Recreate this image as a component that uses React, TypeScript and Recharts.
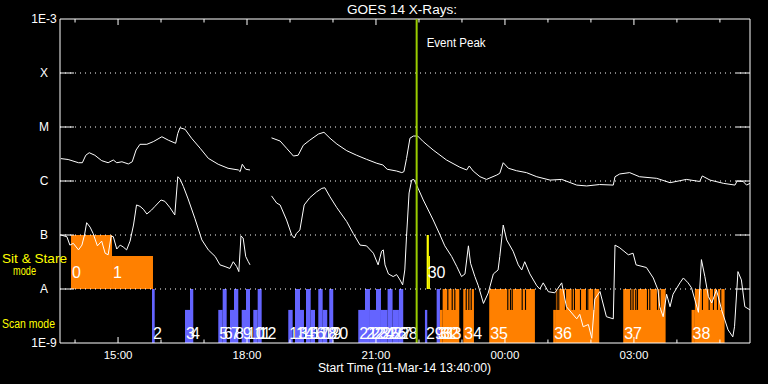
import React from 'react';
import { ComposedChart, Line, XAxis, YAxis, ReferenceArea, ReferenceLine } from 'recharts';

const FONT = '"Liberation Sans", Arial, sans-serif';

// Time axis in decimal clock hours of 11-Mar-14 (values above 24 are 12-Mar)
const T_START = 13.65;
const T_END = 29.7;
const EVENT_PEAK = 21.946;
const HOUR_TICKS = [14, 15, 16, 17, 18, 19, 20, 21, 22, 23, 24, 25, 26, 27, 28, 29];
const LABEL_TICKS = [15, 18, 21, 24, 27];

const Y_TICKS = [1e-9, 1e-8, 1e-7, 1e-6, 1e-5, 1e-4, 1e-3];
const Y_TICK_LABELS = ['1E-9', 'A', 'B', 'C', 'M', 'X', '1E-3'];
const GRID_LEVELS = [1e-8, 1e-7, 1e-6, 1e-5, 1e-4];

// GOES 14 long channel (1-8 A), two segments separated by a data gap
const longA = [
  [13.67, 2.6e-6], [13.84, 2.5e-6], [14.08, 2.18e-6], [14.17, 2.18e-6], [14.25, 3.0e-6],
  [14.33, 3.34e-6], [14.46, 3.0e-6], [14.62, 2.38e-6], [14.77, 2.18e-6], [14.89, 2.45e-6],
  [14.97, 2.18e-6], [15.09, 2.27e-6], [15.24, 2.07e-6], [15.33, 2.27e-6], [15.42, 3.75e-6],
  [15.51, 4.78e-6], [15.67, 4.78e-6], [15.82, 5.35e-6], [16.02, 6.6e-6], [16.17, 5.7e-6],
  [16.34, 4.99e-6], [16.39, 7.6e-6], [16.44, 9.7e-6], [16.56, 9.05e-6], [16.71, 6.2e-6],
  [16.91, 4.04e-6], [17.10, 2.63e-6], [17.33, 2.04e-6], [17.56, 1.72e-6], [17.80, 1.6e-6],
  [17.84, 1.49e-6], [17.89, 2.04e-6], [17.97, 1.65e-6], [18.07, 1.6e-6],
];
const longB = [
  [18.57, 6.3e-6], [18.77, 5.5e-6], [18.92, 4.04e-6], [19.08, 2.9e-6], [19.19, 3.0e-6],
  [19.31, 4.6e-6], [19.46, 5.7e-6], [19.66, 7.4e-6], [19.79, 7.98e-6], [19.93, 6.2e-6],
  [20.09, 4.84e-6], [20.32, 3.64e-6], [20.55, 3.0e-6], [20.78, 2.52e-6], [21.02, 2.13e-6],
  [21.16, 1.98e-6], [21.26, 1.65e-6], [21.48, 1.53e-6], [21.60, 1.43e-6], [21.65, 1.49e-6],
  [21.71, 2.6e-6], [21.79, 6.2e-6], [21.87, 6.8e-6], [21.97, 6.8e-6], [22.10, 5.35e-6],
  [22.33, 3.75e-6], [22.64, 2.45e-6], [22.95, 1.8e-6], [23.11, 1.6e-6], [23.17, 1.9e-6],
  [23.26, 1.53e-6], [23.42, 1.2e-6], [23.57, 1.07e-6], [23.81, 1.29e-6], [23.88, 1.39e-6],
  [23.96, 2.18e-6], [24.08, 1.72e-6], [24.27, 1.55e-6], [24.50, 1.43e-6], [24.74, 1.2e-6],
  [25.05, 1.04e-6], [25.32, 1.07e-6], [25.67, 8.4e-7], [25.90, 8.1e-7], [26.20, 8.6e-7],
  [26.52, 8.4e-7], [26.56, 1.2e-6], [26.67, 1.35e-6], [26.90, 1.43e-6], [27.13, 1.2e-6],
  [27.53, 1.12e-6], [27.84, 9.3e-7], [28.22, 1.07e-6], [28.53, 9.8e-7], [28.59, 1.24e-6],
  [28.77, 1.04e-6], [29.08, 9.05e-7], [29.35, 8.4e-7], [29.40, 1.0e-6], [29.54, 9.8e-7],
  [29.62, 8.4e-7], [29.70, 9.05e-7],
];

// GOES 14 short channel (0.5-4 A)
const shortA = [
  [13.67, 1.0e-7], [13.81, 9.3e-8], [13.88, 6.5e-8], [13.96, 7.0e-8], [14.08, 5.3e-8],
  [14.16, 6.5e-8], [14.22, 1.0e-7], [14.27, 1.69e-7], [14.35, 1.4e-7], [14.42, 1.07e-7],
  [14.52, 6.3e-8], [14.62, 7.7e-8], [14.70, 4.6e-8], [14.77, 4.3e-8], [14.84, 9.6e-8],
  [14.89, 9.3e-8], [14.97, 5.5e-8], [15.05, 6.5e-8], [15.12, 6.0e-8], [15.20, 5.3e-8],
  [15.28, 7.7e-8], [15.36, 1.53e-7], [15.43, 3.6e-7], [15.51, 3.4e-7], [15.59, 3.0e-7],
  [15.67, 2.45e-7], [15.78, 2.9e-7], [15.86, 3.4e-7], [16.00, 4.45e-7], [16.09, 4.2e-7],
  [16.21, 3.2e-7], [16.32, 2.35e-7], [16.39, 1.2e-6], [16.44, 1.1e-6], [16.52, 7.9e-7],
  [16.63, 4.65e-7], [16.79, 2.0e-7], [16.95, 8.1e-8], [17.10, 5.3e-8], [17.26, 4.0e-8],
  [17.37, 2.8e-8], [17.49, 2.6e-8], [17.60, 2.4e-8], [17.68, 3.2e-8], [17.76, 2.6e-8],
  [17.81, 2.1e-8], [17.86, 9.6e-8], [17.91, 8.8e-8], [17.97, 4.0e-8], [18.03, 3.2e-8],
  [18.07, 2.8e-8],
];
const shortB = [
  [18.57, 5.3e-7], [18.69, 3.9e-7], [18.77, 3.6e-7], [18.92, 1.9e-7], [19.04, 1.0e-7],
  [19.10, 8.8e-8], [19.15, 1.07e-7], [19.23, 1.24e-7], [19.33, 3.6e-7], [19.46, 4.9e-7],
  [19.62, 6.3e-7], [19.74, 7.3e-7], [19.81, 7.5e-7], [19.93, 5.1e-7], [20.09, 3.2e-7],
  [20.32, 1.77e-7], [20.47, 1.07e-7], [20.63, 6.5e-8], [20.78, 6.3e-8], [20.94, 4.6e-8],
  [21.05, 2.8e-8], [21.13, 5.0e-8], [21.17, 5.3e-8], [21.21, 2.8e-8], [21.29, 1.9e-8],
  [21.40, 1.7e-8], [21.48, 1.85e-8], [21.56, 1.47e-8], [21.62, 1.19e-8], [21.67, 2.25e-8],
  [21.71, 9.3e-8], [21.77, 6.0e-7], [21.83, 1.04e-6], [21.88, 1.07e-6], [21.98, 7.3e-7],
  [22.10, 4.45e-7], [22.33, 1.9e-7], [22.49, 1.0e-7], [22.60, 6.3e-8], [22.76, 4.0e-8],
  [22.88, 2.6e-8], [22.99, 1.7e-8], [23.07, 1.9e-8], [23.15, 6.3e-8], [23.20, 3.0e-8],
  [23.30, 1.7e-8], [23.38, 1.15e-8], [23.50, 5.4e-9], [23.61, 8.4e-9], [23.73, 1.9e-8],
  [23.84, 2.25e-8], [23.88, 4.0e-8], [23.96, 1.53e-7], [24.04, 8.1e-8], [24.19, 5.0e-8],
  [24.31, 2.8e-8], [24.39, 2.25e-8], [24.46, 3.2e-8], [24.58, 1.9e-8], [24.74, 1.15e-8],
  [24.81, 1.0e-8], [24.89, 1.3e-8], [25.01, 8.9e-9], [25.16, 8.5e-9], [25.32, 1.3e-8],
  [25.43, 4.7e-9], [25.67, 2.8e-9], [25.74, 3.4e-9], [25.82, 2.0e-9], [25.94, 2.2e-9],
  [26.02, 1.22e-9], [26.09, 6.5e-9], [26.21, 9.0e-9], [26.36, 3.07e-9], [26.52, 2.8e-9],
  [26.56, 6.5e-8], [26.67, 5.8e-8], [26.87, 4.3e-8], [26.98, 4.6e-8], [27.05, 2.8e-8],
  [27.29, 2.5e-8], [27.45, 1.6e-8], [27.56, 9.6e-9], [27.60, 4.7e-9], [27.68, 3.07e-9],
  [27.76, 8.0e-9], [27.84, 4.7e-9], [27.91, 8.0e-9], [28.07, 1.3e-8], [28.15, 1.6e-8],
  [28.26, 1.3e-8], [28.34, 1.05e-8], [28.50, 3.7e-9], [28.57, 3.5e-8], [28.65, 1.7e-8],
  [28.73, 7.3e-9], [28.81, 5.5e-9], [28.92, 9.6e-9], [29.04, 4.1e-9], [29.19, 1.75e-9],
  [29.30, 1.3e-9], [29.34, 2.0e-9], [29.42, 2.1e-8], [29.50, 1.47e-8], [29.58, 4.7e-9],
  [29.70, 4.1e-9],
];

// Observation blocks. group: O = orange, B = blue, Y = yellow
const STARE_BASE = 1e-8;
const SCAN_BASE = 1e-9;
const FULL = 1e-8;
const HALF = 4.1e-9;

const stareObs = [
  { label: '0', start: 13.906, end: 14.86, top: 1.0e-7, group: 'O' },
  { label: '1', start: 14.86, end: 15.813, top: 4.1e-8, group: 'O' },
  { label: '30', start: 22.179, end: 22.23, top: 1.0e-7, group: 'Y' },
  { label: '', start: 22.23, end: 22.255, top: 4.1e-8, group: 'Y' },
];

const scanObs = [
  { label: '2', start: 15.79, end: 15.853, top: FULL, group: 'B' },
  { label: '3', start: 16.557, end: 16.674, top: HALF, group: 'B' },
  { label: '4', start: 16.674, end: 16.75, top: FULL, group: 'B' },
  { label: '5', start: 17.332, end: 17.434, top: HALF, group: 'B' },
  { label: '6', start: 17.434, end: 17.527, top: FULL, group: 'B' },
  { label: '7', start: 17.604, end: 17.697, top: HALF, group: 'B' },
  { label: '8', start: 17.697, end: 17.797, top: FULL, group: 'B' },
  { label: '9', start: 17.876, end: 17.976, top: HALF, group: 'B' },
  { label: '10', start: 17.976, end: 18.069, top: FULL, group: 'B' },
  { label: '11', start: 18.146, end: 18.248, top: HALF, group: 'B' },
  { label: '12', start: 18.248, end: 18.341, top: FULL, group: 'B' },
  { label: '13', start: 18.96, end: 19.062, top: HALF, group: 'B' },
  { label: '14', start: 19.116, end: 19.232, top: FULL, group: 'B' },
  { label: '15', start: 19.232, end: 19.325, top: HALF, group: 'B' },
  { label: '16', start: 19.372, end: 19.481, top: FULL, group: 'B' },
  { label: '17', start: 19.481, end: 19.581, top: HALF, group: 'B' },
  { label: '18', start: 19.658, end: 19.76, top: FULL, group: 'B' },
  { label: '19', start: 19.76, end: 19.867, top: HALF, group: 'B' },
  { label: '20', start: 19.913, end: 20.006, top: FULL, group: 'B' },
  { label: '21', start: 20.588, end: 20.744, top: HALF, group: 'B' },
  { label: '22', start: 20.744, end: 20.86, top: FULL, group: 'B' },
  { label: '23', start: 20.86, end: 21.0, top: HALF, group: 'B' },
  { label: '24', start: 21.0, end: 21.116, top: FULL, group: 'B' },
  { label: '25', start: 21.116, end: 21.27, top: HALF, group: 'B' },
  { label: '26', start: 21.27, end: 21.386, top: FULL, group: 'B' },
  { label: '27', start: 21.386, end: 21.534, top: HALF, group: 'B' },
  { label: '28', start: 21.534, end: 21.634, top: FULL, group: 'B' },
  { label: '29', start: 22.139, end: 22.193, top: HALF, group: 'B' },
  { label: '31', start: 22.411, end: 22.488, top: FULL, group: 'B' },
  { label: '32', start: 22.488, end: 22.551, top: HALF, group: 'O' },
  { label: '33', start: 22.551, end: 22.937, top: FULL, group: 'O' },
  { label: '34', start: 23.03, end: 23.279, top: FULL, group: 'O' },
  { label: '35', start: 23.634, end: 24.697, top: FULL, group: 'O' },
  { label: '36', start: 25.123, end: 25.186, top: HALF, group: 'O' },
  { label: '', start: 25.186, end: 26.193, top: FULL, group: 'O' },
  { label: '37', start: 26.751, end: 27.737, top: FULL, group: 'O' },
  { label: '38', start: 28.341, end: 28.418, top: HALF, group: 'O' },
  { label: '', start: 28.418, end: 29.109, top: FULL, group: 'O' },
];

// short breaks between consecutive scan rasters inside the orange blocks
const scanGaps = [
  22.658, 22.76, 22.821, 23.086, 23.147, 23.202, 24.053, 24.116, 24.156, 24.388, 24.465,
  25.202, 25.239, 25.395, 25.551, 25.604, 25.744, 25.884, 25.914, 26.053,
  26.914, 26.967, 27.03, 27.07, 27.302, 27.356, 27.535, 27.595,
  28.581, 28.737, 28.837, 28.93, 29.007,
];

const GROUP_COLOR: Record<string, string> = { O: '#ff8000', B: '#6464ff', Y: '#ffff00' };
const GAP_WIDTH = 0.026;
const PX_PER_HOUR = 43;
const PX_PER_DECADE = 54;
const Y_TICK_LEN_H = 14 / PX_PER_HOUR;
const up = (v: number, px: number) => v * Math.pow(10, px / PX_PER_DECADE);

const toPts = (arr: number[][]) => arr.map(([t, v]) => ({ t, v }));

const fmtHour = (h: number) => String(Math.round(h) % 24).padStart(2, '0') + ':00';
const fmtY = (v: number) => {
  const i = Y_TICKS.findIndex((t) => Math.abs(Math.log10(t) - Math.log10(v)) < 0.01);
  return i >= 0 ? Y_TICK_LABELS[i] : '';
};

function ObsLabel(props: any) {
  const { viewBox, text, lift } = props;
  if (!viewBox || !text) return null;
  return (
    <text
      x={viewBox.x + 1}
      y={viewBox.y + viewBox.height - lift}
      fill="#ffffff"
      fontSize={16}
      fontFamily={FONT}
    >
      {text}
    </text>
  );
}

function PeakLabel(props: any) {
  const { viewBox } = props;
  if (!viewBox) return null;
  return (
    <text
      x={viewBox.x + 10}
      y={viewBox.y + 28}
      fill="#ffffff"
      fontSize={12}
      fontFamily={FONT}
      textLength={59}
      lengthAdjust="spacingAndGlyphs"
    >
      Event Peak
    </text>
  );
}

export default function App() {
  const white = '#ffffff';
  return (
    <div style={{ position: 'absolute', left: 0, top: 0, width: 768, height: 384, background: '#000' }}>
      <ComposedChart width={768} height={384} margin={{ top: 19, right: 18, bottom: 0, left: 0 }}>
        <XAxis
          type="number"
          dataKey="t"
          domain={[T_START, T_END]}
          allowDataOverflow
          ticks={LABEL_TICKS}
          interval={0}
          tickFormatter={fmtHour}
          axisLine={{ stroke: white }}
          tickLine={false}
          tickSize={0}
          tickMargin={8}
          height={41}
          tick={{ fill: white, fontSize: 11.5, fontFamily: FONT }}
        />
        <YAxis
          type="number"
          scale="log"
          domain={[1e-9, 1e-3]}
          allowDataOverflow
          ticks={Y_TICKS}
          interval={0}
          tickFormatter={fmtY}
          axisLine={{ stroke: white }}
          tickLine={false}
          tickSize={0}
          tickMargin={16}
          width={60}
          tick={{ fill: white, fontSize: 12, fontFamily: FONT, textAnchor: 'middle' }}
        />

        {GRID_LEVELS.map((lvl) => (
          <ReferenceLine key={'g' + lvl} y={lvl} stroke={white} strokeDasharray="1 4" />
        ))}

        {stareObs.map((o, i) => (
          <ReferenceArea
            key={'s' + i}
            x1={o.start}
            x2={o.end}
            y1={STARE_BASE}
            y2={o.top}
            fill={GROUP_COLOR[o.group]}
            fillOpacity={1}
            stroke="none"
          />
        ))}
        {scanObs.map((o, i) => (
          <ReferenceArea
            key={'c' + i}
            x1={o.start}
            x2={o.end}
            y1={SCAN_BASE}
            y2={o.top}
            fill={GROUP_COLOR[o.group]}
            fillOpacity={1}
            stroke="none"
          />
        ))}
        {scanGaps.map((t, i) => (
          <ReferenceArea
            key={'gap' + i}
            x1={t}
            x2={t + GAP_WIDTH}
            y1={HALF}
            y2={FULL}
            fill="#000000"
            fillOpacity={1}
            stroke="none"
          />
        ))}

        {GRID_LEVELS.map((lvl) => (
          <ReferenceLine
            key={'yl' + lvl}
            segment={[{ x: T_START, y: lvl }, { x: T_START + Y_TICK_LEN_H, y: lvl }]}
            stroke={white}
          />
        ))}
        {GRID_LEVELS.map((lvl) => (
          <ReferenceLine
            key={'yr' + lvl}
            segment={[{ x: T_END - Y_TICK_LEN_H, y: lvl }, { x: T_END, y: lvl }]}
            stroke={white}
          />
        ))}
        {HOUR_TICKS.map((h) => (
          <ReferenceLine
            key={'xb' + h}
            segment={[{ x: h, y: 1e-9 }, { x: h, y: up(1e-9, LABEL_TICKS.includes(h) ? 6 : 3.5) }]}
            stroke={white}
          />
        ))}
        {HOUR_TICKS.map((h) => (
          <ReferenceLine
            key={'xt' + h}
            segment={[{ x: h, y: 1e-3 }, { x: h, y: up(1e-3, LABEL_TICKS.includes(h) ? -6 : -3.5) }]}
            stroke={white}
          />
        ))}
        <ReferenceLine y={1e-3} stroke={white} />
        <ReferenceLine x={T_END} stroke={white} />

        <Line data={toPts(longA)} dataKey="v" type="linear" stroke={white} strokeWidth={1} dot={false} isAnimationActive={false} />
        <Line data={toPts(longB)} dataKey="v" type="linear" stroke={white} strokeWidth={1} dot={false} isAnimationActive={false} />
        <Line data={toPts(shortA)} dataKey="v" type="linear" stroke={white} strokeWidth={1} dot={false} isAnimationActive={false} />
        <Line data={toPts(shortB)} dataKey="v" type="linear" stroke={white} strokeWidth={1} dot={false} isAnimationActive={false} />

        <ReferenceLine x={EVENT_PEAK} stroke="#99cc00" strokeWidth={2} label={<PeakLabel />} />

        {stareObs.map((o, i) => (
          <ReferenceArea
            key={'sl' + i}
            x1={o.start}
            x2={o.end}
            y1={STARE_BASE}
            y2={o.top}
            fill="none"
            fillOpacity={0}
            stroke="none"
            label={<ObsLabel text={o.label} lift={11} />}
          />
        ))}
        {scanObs.map((o, i) => (
          <ReferenceArea
            key={'cl' + i}
            x1={o.start}
            x2={o.end}
            y1={SCAN_BASE}
            y2={o.top}
            fill="none"
            fillOpacity={0}
            stroke="none"
            label={<ObsLabel text={o.label} lift={4} />}
          />
        ))}
      </ComposedChart>

      <svg
        width={768}
        height={384}
        style={{ position: 'absolute', left: 0, top: 0, pointerEvents: 'none' }}
      >
        <text x={347} y={14} fill="#ffffff" fontSize={12} fontFamily={FONT} textLength={110} lengthAdjust="spacingAndGlyphs">
          GOES 14 X-Rays:
        </text>
        <text x={318} y={372} fill="#ffffff" fontSize={12} fontFamily={FONT} textLength={173} lengthAdjust="spacingAndGlyphs">
          Start Time (11-Mar-14 13:40:00)
        </text>
        <text x={2} y={263} fill="#ffff00" fontSize={13} fontFamily={FONT} textLength={65} lengthAdjust="spacingAndGlyphs">
          Sit &amp; Stare
        </text>
        <text x={13} y={275} fill="#ffff00" fontSize={12} fontFamily={FONT} textLength={23} lengthAdjust="spacingAndGlyphs">
          mode
        </text>
        <text x={2} y={328} fill="#ffff00" fontSize={12.5} fontFamily={FONT} textLength={53} lengthAdjust="spacingAndGlyphs">
          Scan mode
        </text>
      </svg>
    </div>
  );
}
